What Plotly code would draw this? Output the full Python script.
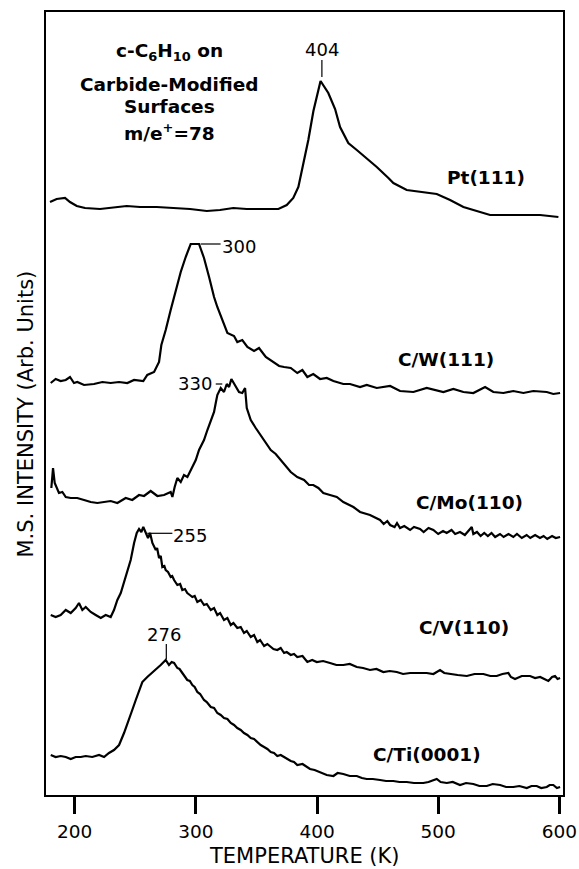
import plotly.graph_objects as go

# ---------------- data (temperature in K, intensity in arbitrary units, offset per surface) -------------
pt_T = [179.6,185.1,192.0,196.1,201.7,208.5,220.9,234.7,242.9,253.9,267.7,281.4,295.2,309.0,319.9,330.9,
        342.0,353.0,368.1,375.0,380.4,384.6,388.7,392.8,397.0,401.1,402.9,409.3,414.9,419.0,425.8,432.8,
        441.0,449.3,458.9,463.0,474.0,487.7,498.8,509.8,520.8,531.8,542.8,562.0,584.1,599.2]
pt_I = [593,596,597,593,589,587,586,588,589,588,588,587,586,584,585,587,
        586,586,586,590,597,608,630,655,684,706,714,702,686,668,652,645,
        637,628,617,612,605,603,601,595,588,584,580,580,580,578]

w_T = [180.2,184.3,188.4,192.6,196.1,199.4,202.1,207.7,215.9,222.8,229.7,236.6,243.4,249.0,256.6,259.9,
       265.5,269.6,271.5,275.1,279.2,283.4,287.5,291.6,295.7,302.6,306.7,310.9,315.0,317.7,321.8,326.0,
       331.5,334.2,338.3,342.5,348.0,352.1,357.7,364.5,368.7,372.8,378.3,383.7,387.9,392.0,396.9,402.5,
       408.0,413.5,421.7,427.2,435.5,441.0,449.3,460.3,468.5,479.5,490.5,504.3,512.5,520.8,529.0,538.7,
       545.5,553.8,562.0,570.3,578.5,589.6,595.0,600.6]
w_I = [412,416,414,415,418,412,413,410,411,413,412,413,412,415,414,420,
       423,433,450,465,485,505,523,538,551,551,537,518,498,488,475,462,
       459,453,455,448,444,447,438,432,429,428,427,422,425,418,421,416,
       417,414,411,411,408,410,407,409,404,403,407,403,406,403,402,408,
       403,402,404,402,404,403,401,402]

mo_T = [180.7,182.1,183.5,185.1,187.0,189.8,192.6,196.7,202.1,207.7,213.2,218.7,224.2,229.7,235.2,242.1,
        247.5,253.1,257.2,262.7,268.2,273.7,279.2,280.6,282.5,284.7,287.5,290.2,293.0,295.7,299.9,302.6,
        306.7,309.5,312.3,315.0,316.4,317.7,320.5,323.2,325.5,327.4,329.3,332.9,335.6,338.3,340.6,342.0,
        345.3,349.4,353.5,357.7,361.8,365.9,370.0,374.2,378.3,383.7,389.3,393.4,396.9,401.1,405.2,410.7,
        416.3,421.7,430.0,435.5,443.7,452.0,455.0,458.0,460.3,464.0,466.0,468.5,472.0,476.8,480.0,485.0,
        488.0,492.0,496.0,500.0,504.0,507.0,511.0,514.0,518.0,522.0,525.0,527.7,529.0,532.0,535.0,538.0,
        541.0,544.0,547.0,551.0,554.0,558.0,562.0,565.0,569.0,573.0,576.0,580.0,584.0,587.0,590.0,594.0,
        597.0,600.6]
mo_I = [307,327,312,307,302,303,298,297,297,295,293,292,293,294,292,297,
        295,300,299,304,299,300,303,298,308,317,313,320,318,325,335,345,
        355,365,375,383,392,400,407,403,411,408,416,408,403,402,407,387,
        375,367,360,352,345,341,335,330,323,318,315,310,310,307,302,300,
        298,293,288,283,280,275,271,274,270,268,272,267,269,265,268,266,
        263,267,265,261,264,262,265,261,263,260,264,268,261,263,259,262,
        259,262,258,261,258,261,258,261,257,260,257,260,257,259,256,259,
        257,258]

v_T = [180.2,184.3,188.4,192.6,196.7,200.8,203.5,206.3,209.1,213.2,217.3,221.5,225.6,229.7,232.4,235.2,
       238.0,240.7,243.4,246.2,249.0,251.2,253.1,255.0,256.6,258.6,260.5,262.2,264.1,266.9,268.0,269.6,
       271.0,272.3,274.0,275.1,277.0,279.2,280.5,282.0,284.7,287.0,288.8,291.0,292.9,295.0,297.1,299.0,
       301.2,304.0,306.7,309.0,312.3,315.0,317.7,320.0,323.2,326.0,328.8,331.0,334.2,337.0,339.7,342.0,
       345.3,348.0,350.7,353.0,356.3,359.0,361.8,364.0,367.2,370.0,372.8,375.0,378.3,381.0,383.7,388.0,
       392.0,396.0,399.8,405.0,410.7,416.0,421.7,427.0,432.8,438.0,443.7,449.0,454.7,460.0,465.8,471.0,
       476.8,483.0,490.5,496.0,501.5,505.0,509.8,516.0,523.6,530.0,537.3,543.0,548.3,553.0,557.9,560.0,
       563.4,569.0,575.8,580.0,584.1,588.0,590.9,594.0,596.4,598.5,600.6]
v_I = [180,178,180,185,182,187,192,185,188,183,180,177,180,178,185,195,
       202,213,225,235,252,262,266,263,268,262,257,262,252,245,247,237,
       239,228,229,225,223,218,219,215,210,211,205,206,202,200,198,199,
       193,195,190,191,185,187,180,182,175,177,170,172,167,168,162,164,
       158,160,153,155,149,151,148,146,145,147,142,143,140,141,138,139,
       133,135,133,134,132,130,130,131,128,127,125,126,123,124,123,121,
       122,122,122,121,125,122,121,120,119,121,121,119,119,121,122,118,
       116,119,119,117,118,116,114,118,119,116,117]

ti_T = [180.2,184.3,188.4,192.6,196.7,200.8,205.0,209.1,214.5,220.1,224.2,228.3,232.4,236.6,240.7,244.8,
        247.5,250.4,253.1,255.8,259.9,264.1,268.2,271.0,273.2,275.1,277.8,280.0,282.0,283.5,284.7,286.5,
        288.8,290.5,292.9,295.0,297.1,299.0,301.2,303.5,306.7,309.0,312.3,315.0,317.7,320.5,323.2,326.0,
        328.8,331.5,334.2,337.0,339.7,342.5,345.3,348.0,350.7,353.5,356.3,359.0,361.8,364.5,367.2,370.0,
        372.8,375.5,378.3,381.0,383.7,388.0,392.0,394.2,398.0,402.5,408.0,413.5,417.0,421.7,427.0,432.8,
        437.0,441.0,446.0,452.0,457.0,463.0,468.0,474.0,480.0,487.7,492.0,498.8,502.0,507.1,512.0,518.0,
        523.0,529.0,534.0,540.1,545.0,551.1,556.0,562.0,567.0,573.1,577.0,581.3,585.0,589.6,592.0,595.0,
        598.0,600.6]
ti_I = [40,38,39,38,36,38,38,39,38,40,38,42,45,50,62,75,
        85,95,105,113,118,123,127,130,133,135,130,133,132,129,127,126,
        122,120,115,114,110,108,103,101,95,93,88,87,82,80,77,76,
        72,70,67,65,62,60,57,56,53,50,48,46,43,42,39,40,
        38,36,34,33,30,31,28,26,25,23,20,19,22,21,19,19,
        17,16,16,15,14,14,13,13,12,12,13,16,13,12,13,10,
        12,11,9,9,11,10,8,8,9,7,9,9,7,8,10,10,
        7,8]

surfaces = ["Pt(111)", "C/W(111)", "C/Mo(110)", "C/V(110)", "C/Ti(0001)"]
series_T = [pt_T, w_T, mo_T, v_T, ti_T]
series_I = [pt_I, w_I, mo_I, v_I, ti_I]

peak_labels = ["404", "300", "330", "255", "276"]
x_ticks = [200, 300, 400, 500, 600]

# ---------------- styling / layout config ----------------
FONT = "DejaVu Sans"
X_RANGE = [176.3, 603.0]
Y_RANGE = [0, 783]

fig = go.Figure()
for T, I, name in zip(series_T, series_I, surfaces):
    fig.add_trace(go.Scatter(x=T, y=I, mode="lines", name=name,
                             line=dict(color="black", width=2.2), showlegend=False,
                             hoverinfo="skip"))

# surface labels (x, y in data units)
surf_pos = [(539.5, 618), (506.3, 436), (526.0, 293), (521.7, 168), (491.0, 41)]
annotations = []
for name, (x, y) in zip(surfaces, surf_pos):
    annotations.append(dict(x=x, y=y, xref="x", yref="y", text=name, showarrow=False,
                            font=dict(family=FONT, size=18.5, color="black", weight="bold"),
                            xanchor="center", yanchor="middle"))

# peak temperature labels
peak_pos = [(404.0, 746), (335.2, 549), (299.4, 412), (295.2, 260), (273.9, 161)]
for lab, (x, y) in zip(peak_labels, peak_pos):
    annotations.append(dict(x=x, y=y, xref="x", yref="y", text=lab, showarrow=False,
                            font=dict(family=FONT, size=18, color="black"),
                            xanchor="center", yanchor="middle"))

# title block
title_lines = ["c-C<sub>6</sub>H<sub>10</sub> on", "Carbide-Modified", "Surfaces", "m/e<sup>+</sup>=78"]
title_y = [743, 711, 689, 663]
for txt, y in zip(title_lines, title_y):
    annotations.append(dict(x=278.0, y=y, xref="x", yref="y", text=txt, showarrow=False,
                            font=dict(family=FONT, size=18.5, color="black", weight="bold"),
                            xanchor="center", yanchor="middle"))

# axis titles
annotations.append(dict(x=0, y=(795 - 414) / 783, xref="paper", yref="paper", xshift=-20.5,
                        text="M.S. INTENSITY (Arb. Units)", textangle=-90, showarrow=False,
                        font=dict(family=FONT, size=21, color="black"),
                        xanchor="center", yanchor="middle"))
annotations.append(dict(x=(304.4 - 46) / 517, y=0, xref="paper", yref="paper", yshift=-61,
                        text="TEMPERATURE (K)", showarrow=False,
                        font=dict(family=FONT, size=21, color="black"),
                        xanchor="center", yanchor="middle"))

# leader lines for peak labels
leaders = [((404.0, 735), (404.0, 718)),
           ((303.9, 551), (320.4, 551)),
           ((316.4, 411), (321.8, 411)),
           ((259.9, 261.7), (280.6, 261.7)),
           ((275.6, 151), (275.6, 135.7))]
shapes = []
for (x0, y0), (x1, y1) in leaders:
    shapes.append(dict(type="line", xref="x", yref="y", x0=x0, y0=y0, x1=x1, y1=y1,
                       line=dict(color="black", width=1.2)))

fig.update_layout(
    width=579, height=869, autosize=False,
    margin=dict(l=46, r=16, t=12, b=74, autoexpand=False),
    paper_bgcolor="white", plot_bgcolor="white",
    annotations=annotations, shapes=shapes,
    xaxis=dict(range=X_RANGE, showgrid=False, zeroline=False, automargin=False,
               showline=True, mirror=True, linecolor="black", linewidth=2,
               ticks="outside", ticklen=17, tickwidth=2.5, tickcolor="black",
               tickvals=x_ticks, ticktext=[str(v) for v in x_ticks],
               tickfont=dict(family=FONT, size=18.5, color="black"),
               ticklabelstandoff=2),
    yaxis=dict(range=Y_RANGE, showgrid=False, zeroline=False, automargin=False,
               showline=True, mirror=True, linecolor="black", linewidth=2,
               ticks="", showticklabels=False),
)

fig.write_html("out.html")
